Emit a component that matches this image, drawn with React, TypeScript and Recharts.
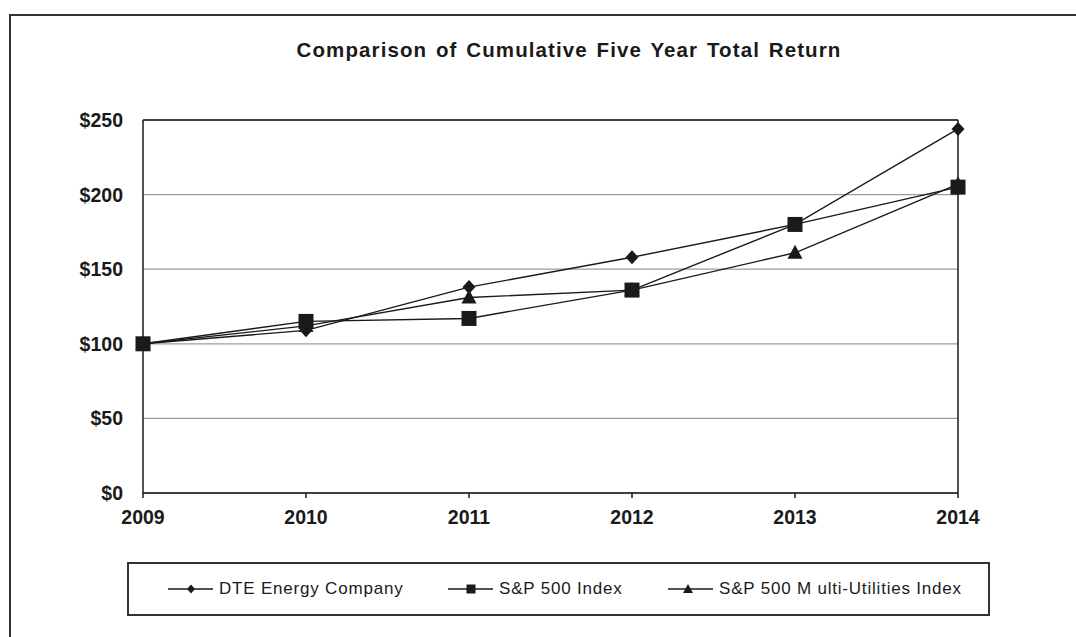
import React from 'react'
import { LineChart, Line, XAxis, YAxis, CartesianGrid, ReferenceLine } from 'recharts'

// Cumulative five-year total return, $100 invested at end of 2009
const years = ['2009', '2010', '2011', '2012', '2013', '2014']
const dteValues = [100, 109, 138, 158, 180, 244]
const sp500Values = [100, 115, 117, 136, 180, 205]
const multiUtilValues = [100, 112, 131, 136, 161, 207]
const yTicks = [0, 50, 100, 150, 200, 250]
const seriesNames = ['DTE Energy Company', 'S&P 500 Index', 'S&P 500 M ulti-Utilities Index']

const data = years.map((year, i) => ({
  year,
  dte: dteValues[i],
  sp500: sp500Values[i],
  multiUtil: multiUtilValues[i],
}))

const INK = '#1a1a1a'
const FONT = 'Arial, "Liberation Sans", sans-serif'

function Diamond(props: any) {
  const { cx, cy, index } = props
  if (cx == null || cy == null) return null
  return <path key={`dia-${index}`} d={`M${cx},${cy - 7}L${cx + 6.5},${cy}L${cx},${cy + 7}L${cx - 6.5},${cy}Z`} fill={INK} />
}

function Square(props: any) {
  const { cx, cy, index } = props
  if (cx == null || cy == null) return null
  return <rect key={`sq-${index}`} x={cx - 7.5} y={cy - 7.5} width={15} height={15} fill={INK} />
}

function Triangle(props: any) {
  const { cx, cy, index } = props
  if (cx == null || cy == null) return null
  return <path key={`tri-${index}`} d={`M${cx},${cy - 8}L${cx + 7.5},${cy + 6}L${cx - 7.5},${cy + 6}Z`} fill={INK} />
}

function LegendIcon({ kind }: { kind: number }) {
  return (
    <svg width={45} height={14} style={{ marginRight: 6 }}>
      <line x1={0} y1={7} x2={45} y2={7} stroke={INK} strokeWidth={1.5} />
      {kind === 0 && <path d="M23,2.5L27,7L23,11.5L19,7Z" fill={INK} />}
      {kind === 1 && <rect x={18.5} y={2.5} width={9} height={9} fill={INK} />}
      {kind === 2 && <path d="M20,2L25,11L15,11Z" fill={INK} />}
    </svg>
  )
}

// left offsets of the legend entries inside the box
const legendLefts = [39, 319, 539]

export default function App() {
  return (
    <div style={{ position: 'absolute', left: 0, top: 0, width: 1076, height: 637, overflow: 'hidden', background: '#fff', fontFamily: FONT }}>
      <div style={{ position: 'absolute', left: 9, top: 14, width: 1200, height: 800, border: `2px solid #333` }} />
      <div
        style={{
          position: 'absolute',
          left: 0,
          width: 1138,
          top: 38,
          textAlign: 'center',
          fontWeight: 'bold',
          fontSize: 20.5,
          letterSpacing: 1.1,
          wordSpacing: 2,
          color: INK,
        }}
      >
        Comparison of Cumulative Five Year Total Return
      </div>
      <div style={{ position: 'absolute', left: 0, top: 0 }}>
        <LineChart width={1076} height={637} data={data} margin={{ top: 120, right: 118, bottom: 114, left: 83 }}>
          <CartesianGrid horizontal vertical={false} stroke="#9c9c9c" strokeWidth={1.3} />
          <XAxis
            dataKey="year"
            height={30}
            axisLine={{ stroke: INK, strokeWidth: 1.5 }}
            tickLine={{ stroke: INK, strokeWidth: 1.5 }}
            tickSize={5}
            tickMargin={12}
            tick={{ fill: INK, fontSize: 19.5, fontWeight: 'bold', fontFamily: FONT }}
          />
          <YAxis
            width={60}
            domain={[0, 250]}
            ticks={yTicks}
            tickFormatter={(v) => `$${v}`}
            axisLine={{ stroke: INK, strokeWidth: 1.5 }}
            tickLine={false}
            tickSize={0}
            tickMargin={20}
            tick={{ fill: INK, fontSize: 19.5, fontWeight: 'bold', fontFamily: FONT }}
          />
          <ReferenceLine y={250} stroke={INK} strokeWidth={1.5} />
          <ReferenceLine x="2014" stroke={INK} strokeWidth={1.5} />
          <Line dataKey="dte" name={seriesNames[0]} stroke={INK} strokeWidth={1.4} dot={Diamond} isAnimationActive={false} />
          <Line dataKey="multiUtil" name={seriesNames[2]} stroke={INK} strokeWidth={1.4} dot={Triangle} isAnimationActive={false} />
          <Line dataKey="sp500" name={seriesNames[1]} stroke={INK} strokeWidth={1.4} dot={Square} isAnimationActive={false} />
        </LineChart>
      </div>
      <div
        style={{
          position: 'absolute',
          left: 127,
          top: 562,
          width: 863,
          height: 54,
          boxSizing: 'border-box',
          border: '2px solid #333',
          fontSize: 17,
          letterSpacing: 0.8,
          color: INK,
        }}
      >
        {seriesNames.map((name, i) => (
          <div
            key={name}
            style={{ position: 'absolute', left: legendLefts[i], top: 0, bottom: 0, display: 'flex', alignItems: 'center' }}
          >
            <LegendIcon kind={i} />
            <span>{name}</span>
          </div>
        ))}
      </div>
    </div>
  )
}
